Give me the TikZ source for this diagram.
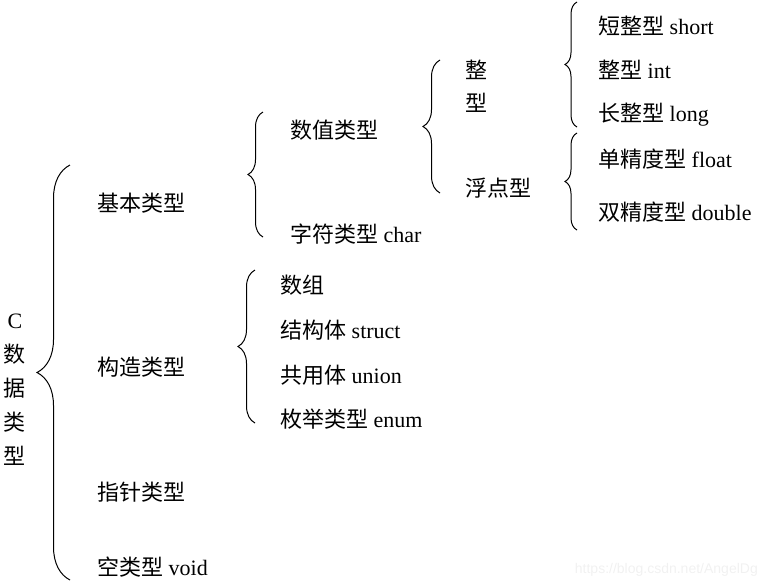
\documentclass[tikz,border=0pt]{standalone}
\usepackage{fontspec}
\setmainfont{Liberation Serif}
\newfontfamily\cjk{Noto Sans CJK SC}
\newfontfamily\wmfont{Liberation Sans}
\usetikzlibrary{
decorations.pathreplacing,
positioning
}
\newcommand{\zh}[1]{{\cjk #1}}

\begin{document}
\begin{tikzpicture}
[x=1pt,y=-1pt,
label_text/.style ={anchor=west, inner sep=0pt, font=\fontsize{22}{26}\selectfont},
label_stack/.style ={label_text, align=center, font=\fontsize{22}{34}\selectfont},
brace_line/.style ={draw, decorate, decoration={brace, amplitude=#1}, line width=1pt},
watermark/.style ={anchor=east, inner sep=0pt, text=gray!11, font=\wmfont\fontsize{14}{16}\selectfont}
]
\useasboundingbox (0,0) rectangle (769,587);

%%%Wurzel%%%
\node [label_stack, anchor=center] (root) at (15,390) {C\\\zh{数}\\\zh{据}\\\zh{类}\\\zh{型}};

%%%Ebene 1%%%
\node [label_text] (basic) at (97,203) {\zh{基本类型}};
\node [label_text] (construct) at (97,367) {\zh{构造类型}};
\node [label_text] (pointer) at (97,492) {\zh{指针类型}};
\node [label_text] (empty) at (97,567) {\zh{空类型} void};

%%%Ebene 2%%%
\node [label_text] (numeric) at (290,130) {\zh{数值类型}};
\node [label_text] (character) at (290,234) {\zh{字符类型} char};
\node [label_text] (array) at (280,285) {\zh{数组}};
\node [label_text] (structure) at (280,330) {\zh{结构体} struct};
\node [label_text] (unionnode) at (280,375) {\zh{共用体} union};
\node [label_text] (enumnode) at (280,419) {\zh{枚举类型} enum};

%%%Ebene 3%%%
\node [label_stack, anchor=west, font=\fontsize{22}{33}\selectfont] (integer) at (465,86.5) {\zh{整}\\\zh{型}};
\node [label_text] (floating) at (465,188) {\zh{浮点型}};

%%%Ebene 4%%%
\node [label_text] (short) at (598,26) {\zh{短整型} short};
\node [label_text] (int) at (598,70) {\zh{整型} int};
\node [label_text] (long) at (598,115) {\zh{长整型} long};
\node [label_text] (float) at (598,159) {\zh{单精度型} float};
\node [label_text] (double) at (598,212) {\zh{双精度型} double};

%%%Klammern%%%
\coordinate (root_top) at (70,165);
\coordinate (root_bot) at (70,580);
\coordinate (basic_top) at (263,112);
\coordinate (basic_bot) at (263,237);
\coordinate (construct_top) at (255,270);
\coordinate (construct_bot) at (255,423);
\coordinate (numeric_top) at (440,60);
\coordinate (numeric_bot) at (440,193);
\coordinate (integer_top) at (577,2);
\coordinate (integer_bot) at (577,127);
\coordinate (floating_top) at (577,133);
\coordinate (floating_bot) at (577,230);

\draw[brace_line=33pt] (root_bot) -- (root_top);
\draw[brace_line=15pt] (basic_bot) -- (basic_top);
\draw[brace_line=17pt] (construct_bot) -- (construct_top);
\draw[brace_line=17pt] (numeric_bot) -- (numeric_top);
\draw[brace_line=12pt] (integer_bot) -- (integer_top);
\draw[brace_line=12pt] (floating_bot) -- (floating_top);

%%%Wasserzeichen%%%
\node [watermark] (wm) at (758,570) {https://blog.csdn.net/AngelDg};

\end{tikzpicture}
\end{document}
